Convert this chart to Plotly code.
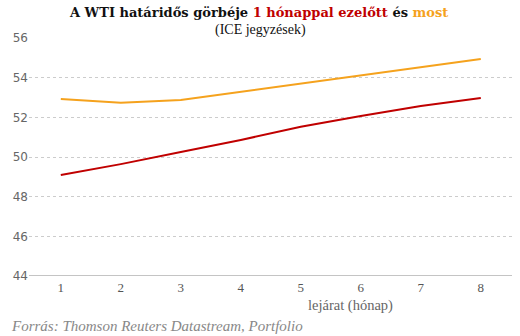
import plotly.graph_objects as go

months = [1, 2, 3, 4, 5, 6, 7, 8]
month_ago = [49.09, 49.64, 50.25, 50.86, 51.52, 52.07, 52.57, 52.97]
now = [52.93, 52.74, 52.87, 53.29, 53.70, 54.12, 54.55, 54.94]
y_ticks = [44, 46, 48, 50, 52, 54, 56]

RED = "#c00000"
ORANGE = "#f5a21d"

fig = go.Figure()
fig.add_trace(go.Scatter(x=months, y=now, mode="lines",
                         line=dict(color=ORANGE, width=2), name="most"))
fig.add_trace(go.Scatter(x=months, y=month_ago, mode="lines",
                         line=dict(color=RED, width=2), name="1 hónappal ezelőtt"))

fig.update_layout(
    width=520, height=336,
    margin=dict(l=29, r=8, t=38, b=60),
    paper_bgcolor="white", plot_bgcolor="white",
    showlegend=False,
    font=dict(family="Liberation Serif", color="#666"),
    xaxis=dict(
        range=[0.47, 8.52], tickvals=months, showgrid=False, zeroline=False,
        showline=False, ticks="", ticklabelstandoff=2,
        tickfont=dict(family="Liberation Serif", size=13, color="#555"),
    ),
    yaxis=dict(
        range=[44, 56], tickvals=y_ticks, showgrid=True, gridcolor="#cccccc",
        griddash="dot", zeroline=False, showline=False, ticks="",
        tickfont=dict(family="DejaVu Sans", size=12, color="#666"),
    ),
)

fig.add_shape(type="line", xref="paper", yref="y", x0=0, x1=1, y0=44, y1=44,
              line=dict(color="#888", width=1))

# title
fig.add_annotation(
    text=("<b>A WTI határidős görbéje <span style='color:%s'>1 hónappal ezelőtt</span> és "
          "<span style='color:%s'>most</span></b>") % (RED, ORANGE),
    xref="paper", yref="paper", x=(258 - 29) / 483, y=(276 - 13) / 238,
    xanchor="center", yanchor="middle", showarrow=False,
    font=dict(family="DejaVu Serif", size=13, color="#111"),
)
fig.add_annotation(
    text="(ICE jegyzések)",
    xref="paper", yref="paper", x=(260 - 29) / 483, y=(276 - 30) / 238,
    xanchor="center", yanchor="middle", showarrow=False,
    font=dict(family="Liberation Serif", size=14, color="#111"),
)
# x axis title
fig.add_annotation(
    text="lejárat (hónap)",
    xref="paper", yref="paper", x=(350 - 29) / 483, y=(276 - 305) / 238,
    xanchor="center", yanchor="middle", showarrow=False,
    font=dict(family="Liberation Serif", size=14.5, color="#666"),
)
fig.add_annotation(
    text="<i>Forrás: Thomson Reuters Datastream, Portfolio</i>",
    xref="paper", yref="paper", x=(9 - 29) / 483, y=(276 - 326) / 238,
    xanchor="left", yanchor="middle", showarrow=False,
    font=dict(family="Liberation Serif", size=15, color="#888"),
)

fig.write_html("out.html")
